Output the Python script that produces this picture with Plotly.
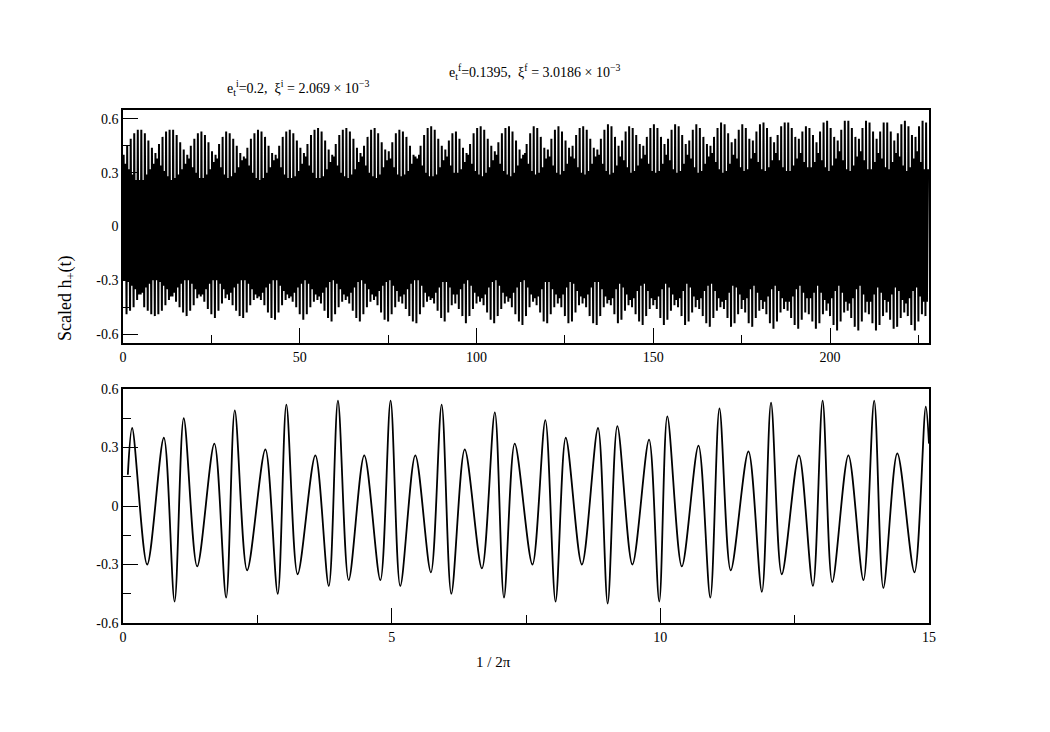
import plotly.graph_objects as go

# ---------------- top panel: per-cycle extrema ----------------
# tall peaks (one per orbital cycle, x = 0..227)
top_tall_peaks = [
    0.40, 0.45, 0.49, 0.52, 0.54, 0.54, 0.52, 0.48, 0.44, 0.41, 0.46, 0.50,
    0.53, 0.54, 0.54, 0.51, 0.47, 0.43, 0.40, 0.45, 0.49, 0.52, 0.53, 0.51,
    0.47, 0.42, 0.40, 0.46, 0.50, 0.53, 0.52, 0.49, 0.45, 0.41, 0.39, 0.44,
    0.49, 0.52, 0.54, 0.53, 0.50, 0.45, 0.41, 0.40, 0.45, 0.50, 0.53, 0.54,
    0.52, 0.48, 0.44, 0.41, 0.46, 0.51, 0.54, 0.55, 0.53, 0.48, 0.43, 0.40,
    0.46, 0.51, 0.54, 0.55, 0.53, 0.49, 0.44, 0.41, 0.45, 0.50, 0.54, 0.55,
    0.52, 0.47, 0.43, 0.42, 0.47, 0.52, 0.54, 0.53, 0.50, 0.45, 0.40, 0.38,
    0.45, 0.51, 0.55, 0.56, 0.54, 0.49, 0.45, 0.43, 0.48, 0.52, 0.53, 0.49,
    0.44, 0.41, 0.46, 0.52, 0.55, 0.56, 0.54, 0.49, 0.45, 0.42, 0.47, 0.52,
    0.55, 0.56, 0.53, 0.48, 0.43, 0.40, 0.46, 0.52, 0.56, 0.55, 0.50, 0.44,
    0.43, 0.49, 0.54, 0.56, 0.53, 0.48, 0.44, 0.45, 0.51, 0.55, 0.56, 0.54,
    0.49, 0.44, 0.43, 0.49, 0.54, 0.57, 0.56, 0.50, 0.45, 0.48, 0.53, 0.56,
    0.55, 0.51, 0.46, 0.45, 0.50, 0.55, 0.57, 0.55, 0.50, 0.46, 0.49, 0.54,
    0.57, 0.56, 0.51, 0.46, 0.48, 0.54, 0.57, 0.55, 0.50, 0.46, 0.45, 0.50,
    0.55, 0.58, 0.57, 0.52, 0.47, 0.49, 0.54, 0.57, 0.55, 0.49, 0.48, 0.53,
    0.57, 0.58, 0.55, 0.50, 0.47, 0.51, 0.56, 0.58, 0.58, 0.55, 0.50, 0.49,
    0.53, 0.56, 0.55, 0.51, 0.47, 0.53, 0.58, 0.59, 0.55, 0.50, 0.48, 0.54,
    0.59, 0.59, 0.55, 0.50, 0.49, 0.55, 0.59, 0.58, 0.53, 0.49, 0.53, 0.58,
    0.58, 0.53, 0.48, 0.52, 0.57, 0.59, 0.56, 0.51, 0.50, 0.56, 0.59, 0.58,
]
# deep troughs
top_deep_troughs = [
    -0.30, -0.49, -0.47, -0.45, -0.41, -0.38, -0.45, -0.47, -0.49, -0.50, -0.49, -0.47,
    -0.44, -0.41, -0.39, -0.42, -0.45, -0.48, -0.50, -0.47, -0.44, -0.40, -0.39, -0.42,
    -0.46, -0.49, -0.51, -0.47, -0.43, -0.40, -0.41, -0.44, -0.47, -0.50, -0.51, -0.48,
    -0.44, -0.41, -0.40, -0.41, -0.44, -0.48, -0.51, -0.52, -0.48, -0.44, -0.41, -0.40,
    -0.42, -0.45, -0.49, -0.52, -0.49, -0.45, -0.42, -0.41, -0.43, -0.47, -0.51, -0.53,
    -0.49, -0.45, -0.42, -0.41, -0.43, -0.47, -0.51, -0.53, -0.49, -0.45, -0.42, -0.41,
    -0.44, -0.48, -0.52, -0.53, -0.49, -0.45, -0.42, -0.43, -0.46, -0.50, -0.53, -0.54,
    -0.49, -0.45, -0.42, -0.41, -0.43, -0.47, -0.51, -0.53, -0.48, -0.44, -0.43, -0.46,
    -0.50, -0.54, -0.50, -0.46, -0.43, -0.42, -0.44, -0.48, -0.52, -0.54, -0.50, -0.46,
    -0.43, -0.42, -0.45, -0.49, -0.53, -0.55, -0.50, -0.45, -0.42, -0.44, -0.48, -0.53,
    -0.54, -0.49, -0.45, -0.43, -0.45, -0.50, -0.54, -0.53, -0.48, -0.44, -0.43, -0.45,
    -0.50, -0.54, -0.55, -0.50, -0.45, -0.43, -0.44, -0.49, -0.54, -0.52, -0.47, -0.44,
    -0.45, -0.49, -0.53, -0.55, -0.50, -0.46, -0.44, -0.46, -0.51, -0.55, -0.52, -0.47,
    -0.44, -0.45, -0.50, -0.55, -0.53, -0.48, -0.45, -0.46, -0.50, -0.54, -0.56, -0.51,
    -0.47, -0.45, -0.46, -0.51, -0.56, -0.54, -0.49, -0.46, -0.48, -0.54, -0.56, -0.51,
    -0.47, -0.46, -0.49, -0.54, -0.57, -0.53, -0.48, -0.46, -0.47, -0.51, -0.55, -0.57,
    -0.52, -0.48, -0.49, -0.53, -0.57, -0.54, -0.49, -0.47, -0.50, -0.55, -0.58, -0.53,
    -0.48, -0.47, -0.51, -0.56, -0.58, -0.53, -0.48, -0.49, -0.54, -0.58, -0.55, -0.50,
    -0.48, -0.52, -0.57, -0.56, -0.51, -0.48, -0.50, -0.55, -0.58, -0.53, -0.49, -0.50,
]
# short peaks (top of the dense band)
top_short_peaks = [
    0.35, 0.32, 0.29, 0.26, 0.26, 0.26, 0.29, 0.32, 0.35, 0.38, 0.34, 0.31,
    0.28, 0.26, 0.27, 0.29, 0.32, 0.35, 0.38, 0.33, 0.30, 0.27, 0.27, 0.29,
    0.32, 0.36, 0.38, 0.33, 0.29, 0.27, 0.28, 0.30, 0.33, 0.37, 0.38, 0.34,
    0.30, 0.27, 0.26, 0.27, 0.30, 0.33, 0.37, 0.38, 0.33, 0.29, 0.27, 0.27,
    0.28, 0.31, 0.35, 0.39, 0.34, 0.30, 0.27, 0.27, 0.28, 0.32, 0.36, 0.39,
    0.34, 0.30, 0.28, 0.27, 0.29, 0.32, 0.36, 0.39, 0.34, 0.30, 0.28, 0.27,
    0.29, 0.33, 0.37, 0.38, 0.33, 0.29, 0.28, 0.29, 0.31, 0.35, 0.39, 0.40,
    0.34, 0.30, 0.28, 0.28, 0.29, 0.33, 0.37, 0.39, 0.34, 0.30, 0.30, 0.32,
    0.36, 0.40, 0.35, 0.31, 0.29, 0.28, 0.30, 0.33, 0.37, 0.40, 0.35, 0.31,
    0.29, 0.28, 0.30, 0.34, 0.38, 0.41, 0.35, 0.31, 0.29, 0.30, 0.33, 0.38,
    0.39, 0.34, 0.30, 0.29, 0.31, 0.35, 0.39, 0.38, 0.33, 0.30, 0.29, 0.31,
    0.35, 0.39, 0.40, 0.35, 0.31, 0.29, 0.30, 0.34, 0.39, 0.37, 0.33, 0.30,
    0.31, 0.34, 0.38, 0.40, 0.35, 0.31, 0.30, 0.31, 0.35, 0.40, 0.37, 0.32,
    0.30, 0.31, 0.35, 0.40, 0.38, 0.33, 0.30, 0.31, 0.35, 0.39, 0.41, 0.36,
    0.32, 0.30, 0.31, 0.35, 0.40, 0.38, 0.33, 0.31, 0.32, 0.38, 0.41, 0.36,
    0.32, 0.31, 0.33, 0.37, 0.41, 0.37, 0.33, 0.31, 0.31, 0.34, 0.38, 0.41,
    0.36, 0.33, 0.33, 0.36, 0.41, 0.37, 0.33, 0.31, 0.34, 0.38, 0.42, 0.37,
    0.32, 0.31, 0.34, 0.39, 0.42, 0.37, 0.32, 0.32, 0.36, 0.41, 0.38, 0.33,
    0.32, 0.36, 0.41, 0.39, 0.34, 0.31, 0.33, 0.38, 0.42, 0.36, 0.32, 0.32,
]
# shallow troughs (bottom of the dense band)
top_shallow_troughs = [
    -0.30, -0.31, -0.33, -0.35, -0.38, -0.37, -0.34, -0.32, -0.30, -0.30, -0.31, -0.33,
    -0.35, -0.39, -0.37, -0.34, -0.32, -0.30, -0.30, -0.32, -0.35, -0.38, -0.38, -0.35,
    -0.32, -0.30, -0.30, -0.32, -0.35, -0.38, -0.37, -0.34, -0.32, -0.30, -0.30, -0.32,
    -0.35, -0.38, -0.39, -0.37, -0.34, -0.32, -0.30, -0.30, -0.33, -0.36, -0.38, -0.39,
    -0.37, -0.34, -0.32, -0.30, -0.32, -0.35, -0.38, -0.39, -0.37, -0.34, -0.31, -0.30,
    -0.32, -0.35, -0.38, -0.39, -0.37, -0.34, -0.31, -0.30, -0.32, -0.35, -0.38, -0.39,
    -0.36, -0.33, -0.31, -0.30, -0.33, -0.36, -0.39, -0.38, -0.35, -0.32, -0.30, -0.30,
    -0.33, -0.37, -0.39, -0.40, -0.37, -0.34, -0.31, -0.31, -0.34, -0.38, -0.38, -0.35,
    -0.32, -0.30, -0.33, -0.37, -0.39, -0.40, -0.38, -0.34, -0.31, -0.30, -0.33, -0.37,
    -0.39, -0.40, -0.37, -0.34, -0.31, -0.30, -0.34, -0.38, -0.40, -0.39, -0.35, -0.31,
    -0.31, -0.35, -0.38, -0.40, -0.38, -0.34, -0.31, -0.32, -0.36, -0.39, -0.40, -0.38,
    -0.34, -0.31, -0.31, -0.35, -0.39, -0.41, -0.40, -0.35, -0.32, -0.34, -0.38, -0.41,
    -0.40, -0.36, -0.33, -0.32, -0.36, -0.40, -0.41, -0.39, -0.35, -0.32, -0.34, -0.38,
    -0.41, -0.40, -0.36, -0.32, -0.34, -0.39, -0.41, -0.40, -0.36, -0.33, -0.32, -0.36,
    -0.40, -0.42, -0.41, -0.37, -0.33, -0.34, -0.38, -0.41, -0.40, -0.35, -0.33, -0.37,
    -0.41, -0.42, -0.39, -0.35, -0.33, -0.36, -0.40, -0.42, -0.42, -0.39, -0.35, -0.33,
    -0.37, -0.40, -0.40, -0.37, -0.33, -0.37, -0.41, -0.43, -0.40, -0.36, -0.33, -0.37,
    -0.42, -0.43, -0.40, -0.35, -0.33, -0.38, -0.42, -0.42, -0.38, -0.34, -0.37, -0.41,
    -0.42, -0.38, -0.34, -0.36, -0.41, -0.43, -0.40, -0.36, -0.34, -0.39, -0.42, -0.42,
]

# ---------------- bottom panel: extrema of the first 15 units ----------------
bottom_t = [0.09, 0.17, 0.45, 0.76, 0.96, 1.13, 1.38, 1.70, 1.92, 2.08, 2.31, 2.65, 2.88,
            3.04, 3.25, 3.58, 3.83, 4.00, 4.20, 4.49, 4.79, 4.98, 5.16, 5.44, 5.73, 5.93,
            6.11, 6.36, 6.68, 6.92, 7.09, 7.29, 7.62, 7.86, 8.05, 8.24, 8.54, 8.84, 9.02,
            9.20, 9.48, 9.79, 9.98, 10.13, 10.40, 10.71, 10.93, 11.10, 11.31, 11.64, 11.89,
            12.06, 12.26, 12.58, 12.84, 13.02, 13.20, 13.50, 13.78, 13.98, 14.15, 14.41,
            14.73, 14.94, 15.0]
bottom_h = [0.16, 0.40, -0.30, 0.35, -0.49, 0.45, -0.31, 0.32, -0.47, 0.49, -0.33, 0.29, -0.45,
            0.52, -0.35, 0.26, -0.41, 0.54, -0.38, 0.26, -0.38, 0.54, -0.41, 0.26, -0.34, 0.52,
            -0.45, 0.29, -0.32, 0.48, -0.47, 0.32, -0.30, 0.44, -0.49, 0.35, -0.30, 0.40, -0.50,
            0.41, -0.30, 0.34, -0.49, 0.46, -0.31, 0.31, -0.47, 0.50, -0.33, 0.28, -0.44,
            0.53, -0.35, 0.26, -0.41, 0.54, -0.39, 0.26, -0.38, 0.54, -0.42, 0.27,
            -0.34, 0.51, 0.32]

# ---------------- ticks / labels ----------------
top_xticks = [0, 50, 100, 150, 200]
bottom_xticks = [0, 5, 10, 15]
y_tickvals = [-0.6, -0.3, 0, 0.3, 0.6]
y_ticktext = ["-0.6", "-0.3", "0", "0.3", "0.6"]
label_initial = "e<sub>t</sub><sup>i</sup>=0.2,  \u03be<sup>i</sup> = 2.069 \u00d7 10<sup>\u22123</sup>"
label_final = "e<sub>t</sub><sup>f</sup>=0.1395,  \u03be<sup>f</sup> = 3.0186 \u00d7 10<sup>\u22123</sup>"
y_title = "Scaled h<sub>+</sub>(t)"
x_title = "1 / 2\u03c0"

# build the dense top trace: within each cycle deep trough, tall peak, shallow trough, short peak
cycle_offsets = [0.0, 0.18, 0.42, 0.74]
n = min(len(top_tall_peaks), len(top_deep_troughs), len(top_short_peaks), len(top_shallow_troughs))
top_x, top_y = [], []
for i in range(n):
    vals = [top_deep_troughs[i], top_tall_peaks[i], top_shallow_troughs[i], top_short_peaks[i]]
    for off, v in zip(cycle_offsets, vals):
        top_x.append(i + off)
        top_y.append(v)

FONT = "Liberation Serif, Times New Roman, serif"

# the page body adds an 8px margin, so the figure is drawn 8px smaller and shifted
OFF = 8
W, H = 1050 - OFF, 732 - OFF
# plot-area box in page pixels (from the reference), converted to figure pixels
L, R, T, B = 123 - OFF, 929 - OFF, 110 - OFF, 623 - OFF
PW, PH = R - L, B - T


def px(xpage):
    return (xpage - OFF - L) / PW


def py(ypage):
    return (B - (ypage - OFF)) / PH


fig = go.Figure()
fig.add_trace(go.Scatter(x=top_x, y=top_y, mode="lines", line=dict(color="black", width=2),
                         xaxis="x", yaxis="y", showlegend=False, hoverinfo="skip"))
fig.add_trace(go.Scatter(x=bottom_t, y=bottom_h, mode="lines",
                         line=dict(color="black", width=1.8, shape="spline", smoothing=0.9),
                         xaxis="x2", yaxis="y2", showlegend=False, hoverinfo="skip"))

axis_common = dict(showline=True, linecolor="black", linewidth=1.5, mirror=True,
                   ticks="inside", ticklen=15, tickwidth=1.2, tickcolor="black",
                   showgrid=False, zeroline=False, automargin=False,
                   tickfont=dict(family=FONT, size=14, color="black"))
minor_y = dict(ticks="inside", ticklen=8, tickwidth=1.2, tickcolor="black",
               tickvals=[-0.45, -0.15, 0.15, 0.45])

fig.update_layout(
    width=W, height=H,
    paper_bgcolor="white", plot_bgcolor="white",
    margin=dict(l=L, r=W - R, t=T, b=H - B, autoexpand=False),
    font=dict(family=FONT, color="black"),
    xaxis=dict(domain=[0, 1], range=[0, 228], anchor="y",
               tickvals=top_xticks,
               minor=dict(ticks="inside", ticklen=8, tickwidth=1.2, tickcolor="black",
                          tickvals=[25, 75, 125, 175, 225]),
               **axis_common),
    yaxis=dict(domain=[py(343), 1], range=[-0.65, 0.65], anchor="x",
               tickvals=y_tickvals, ticktext=y_ticktext, minor=minor_y, **axis_common),
    xaxis2=dict(domain=[0, 1], range=[0, 15], anchor="y2",
                tickvals=bottom_xticks,
                minor=dict(ticks="inside", ticklen=8, tickwidth=1.2, tickcolor="black",
                           tickvals=[2.5, 7.5, 12.5]),
                **axis_common),
    yaxis2=dict(domain=[0, py(389)], range=[-0.6, 0.6], anchor="x2",
                tickvals=y_tickvals, ticktext=y_ticktext, minor=minor_y, **axis_common),
    annotations=[
        dict(text=label_initial, x=px(225), y=py(88), xref="paper", yref="paper",
             xanchor="left", yanchor="middle", showarrow=False,
             font=dict(family=FONT, size=14, color="black")),
        dict(text=label_final, x=px(447), y=py(72), xref="paper", yref="paper",
             xanchor="left", yanchor="middle", showarrow=False,
             font=dict(family=FONT, size=14, color="black")),
        dict(text=y_title, x=px(66), y=py(298), xref="paper", yref="paper",
             xanchor="center", yanchor="middle", textangle=-90, showarrow=False,
             font=dict(family=FONT, size=18, color="black")),
        dict(text=x_title, x=px(493), y=py(662), xref="paper", yref="paper",
             xanchor="center", yanchor="middle", showarrow=False,
             font=dict(family=FONT, size=15, color="black")),
    ],
)

fig.write_html("out.html")
